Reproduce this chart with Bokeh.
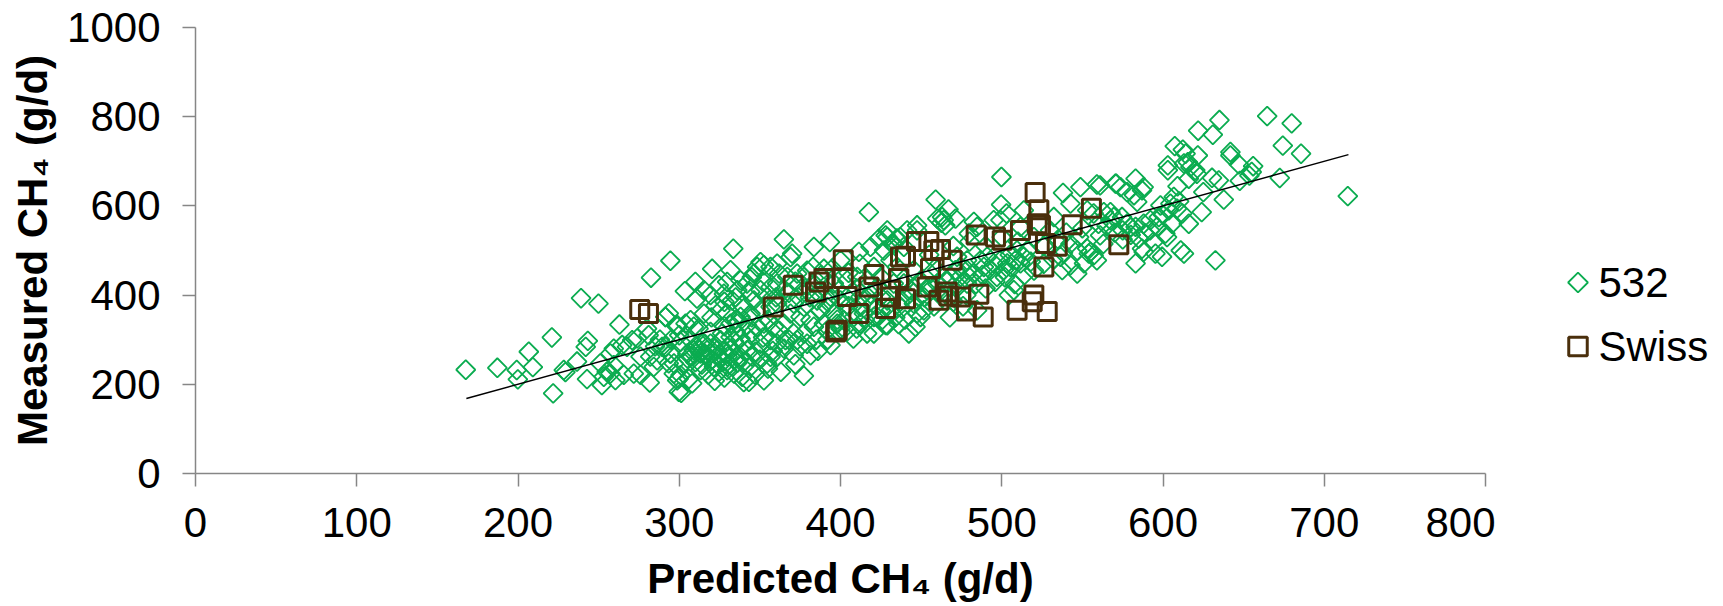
from bokeh.plotting import figure
from bokeh.layouts import row
from bokeh.models import FixedTicker, Range1d
from bokeh.core.properties import value
from bokeh.embed import file_html
from bokeh.resources import INLINE
import math

x_ticks = [0, 100, 200, 300, 400, 500, 600, 700, 800]
y_ticks = [0, 200, 400, 600, 800, 1000]
trend_x = [168, 715]
trend_y = [168, 715]
legend_labels = ["532", "Swiss"]

points_532 = [
(167.6,232.6),(187.2,237),(199.2,232),(199.9,211),(206.7,273),(209.2,238.6),(221,305),(221.8,179.6),(228.4,232),(229.4,227.4),
(236.6,251),(239.1,393),(249.9,381),(242,284),(243.3,297.5),(242.8,211.7),(252,198),(262.9,334),(282.5,439),(294.5,477),
(259.4,280),(257.3,269),(251,247),(257.3,224),(260.4,209.5),(265.6,221),(271.8,224),(276,221),(281.7,204),(264.6,288),
(267.6,284),(270.8,299),(273.9,303),(281,310),(276,262),(282,262),(286.3,254),(289.4,284),(294.5,269),(296.6,224),
(299.7,213),(299.7,183),(280,325),(291.4,351),(293.5,359),(298.7,333),(259.4,243),(255,228),(253.2,217),(284.2,239),(293.5,247),
(417.6,586),(364.9,525),(393.4,519),(383.5,508),(333.5,504),(370,493),(369,485),(320.4,459),(331.8,456),(350.4,474),
(352.5,467),(356.6,463),(360.7,470.6),(346.3,448),(348.3,463),(383,463),(389.7,459),(411.4,497),(400,478),(423.8,526.5),
(429,530),(433,515),(418.6,508),(420.7,463),(310,429.5),(303.5,409),(315.3,411),(324.6,422),(329.7,429.5),(338,433),
(342,426),(336,411),(344,407),(350.4,411),(356.6,418),(360.7,426),(311,392),(319.4,400),(327.7,403),(332.8,388),
(339,377),(346.3,388),(354.5,396),(360.7,381),(322.5,377),(315.3,358.6),(325.6,366),(329.7,358.6),(291.5,351),(298.7,329),
(303.9,336),(307,343.6),(309,329),(319.4,317.5),(326.6,314),(336,336),(342,332.5),(348.3,329),(352.5,336),(358.7,329),
(364.9,336),(369,358.6),(375.2,351),(381.4,343.6),(387.6,366),(391.7,373.5),(395.9,358.6),(371,381),(377.3,373.5),(385.5,388),
(393.8,396),(400,388),(406.2,403),(412.4,396),(418.6,403),(408,302.6),(393.8,287.7),(377.3,219),(352.5,209),(343.2,205.5),
(301.2,181),(308,202),(300.8,220.5),(298.7,209),(381.4,265),(371,265),(379.3,291),(365.9,299),(360.7,261.5),(354.5,246.6),
(356.6,261.5),(344.2,239),(339,217),(334,224),(329.7,231.7),(324.6,228),(321.5,239),(313.2,231.7),(313.2,269),(317.3,276.5),
(309,276.5),(305,269),(294.6,269),(291.5,284),(296.7,246.6),(323.5,276.5),(329.7,284),(333.9,269),(338,261.5),(342,276.5),
(347.3,273),(350.4,291),(356.6,299),(360.7,291),(344,299),(338,302.6),(331.8,306),(325.6,299),(319.4,291),(313.2,291),
(307,299),(300.8,295),(391.7,321),(371,314),(373.1,299),(377.3,314),(383.5,329),(389.7,336),(420.7,314),(416.5,314),
(429,332.5),(412.4,336),(420.7,351),(408.3,351),(402,343.6),(398,336),(414.5,358.6),(425,366),(412.4,373.5),(420.7,381),
(429,388),(422.8,418),(416.5,433),(410.4,440.7),(404.2,433),(395.9,426),(389.7,418),(383.5,426),(377.3,440.7),(373.1,448),
(379.3,455),(367,440.7),(365,411),(356.6,373.5),(350.4,366),(344.2,358.6),(338,351),(331.8,336),
(310,285),(312,280),(314,272),(316,268),(318,262),(320,270),(322,280),(324,265),(326,258),(328,272),(330,262),(332,278),
(316,290),(320,255),(323,248),(327,250),(331,245),(334,255),(336,248),(340,250),(308,262),(305,258),(303,248),(310,250),(314,244),
(499.8,664.8),(459,614),(499.6,603),(467,592),(463,575),(464,568),(462.6,562),(465,556.5),(460,571.5),(471.3,571.5),
(447.5,556.5),(428,534),(435,527),(447.5,545),(482.7,564),(484.7,553),(479.6,538),(538,629),(548.8,642),(559,648),
(570.5,650),(495,568),(503,583),(513.7,590),(499.2,568),(511.6,553),(532.3,575),(542.6,605),(553,590),(557,583),
(563.3,586),(567.4,568),(561,534),(553,504),(555,497),(557,489),(554,493),(546.8,448),(537.5,456),(542.6,467),
(551,471),(559,478),(536.4,486),(546.8,500),(542.6,515),(507.5,411),(504.4,400),(508.5,478),(511.6,471),(505.4,463),
(501.3,456),(497,441),(493,456),(488.9,463),(482.7,448),(478.5,456),(474.4,463),(468.2,441),(513.7,486),(509.5,500),
(515.8,500),(499.2,478),(503.4,471),(495,471),(486.8,478),(491,486),(478.5,478),(472.3,486),(464,441),(467.8,350),
(484.7,366),(442.4,314),(446.5,329),(449.6,351),(451.7,366),(445.5,381),(428,333),(455.8,448),(460,456),(449.6,433),
(453.7,411),(445.5,456),(435,463),(431,478),(427,500),(429,545),(432,515),(439.3,508),(441.3,545),(437,530),
(425,441),(433,426),(439.3,426),(443.4,411),(425,396),(447.5,359),(478.5,426),(474.4,441),(471.3,456),
(664.6,801.4),(679.8,785),(635,792.5),(621.8,768.6),(630.9,759.6),(674.3,735),(685.6,717),(607.3,734),(612.3,726),(614,717),
(621.6,713),(641.8,720.8),(641.8,713),(603,691),(603,680),(647,693),(655.9,689),(655,676),(653.6,668),(672.4,662.6),
(647.6,656),(634.6,657),(630.4,663),(620,680),(617,687),(621,672),(616,661),(609,644),(625,631),(637.7,614),
(583,661),(588,642),(587,635),(571,650),(573.6,642),(577.7,631),(582,624),(584,609),(561,646),(714.6,622),
(632.5,478),(624,586),(616,560),(612,583),(611,500),(613,493),(599.4,486),(595.3,493),(583,471),(587,504),
(588,497),(602.5,530),(601.5,538),(605.6,560),(596.3,553),(598.4,601),(604.6,605),(606.7,620),(608.7,594),(603.6,590),
(597.4,575),(592.2,568),(588,560),(583,553),(580,553),(577.7,560),(574.6,575),(567.4,586),(589,538),(585,527),
(594,519),(569.5,575),(563,515),(613,695),(615.4,698),
(381,395),(386,405),(392,385),(399,410),(405,375),(410,415),(416,390),(423,350),(431,365),(437,385),
(442,400),(449,395),(455,420),(461,405),(466,430),(472,415),(478,400),(484,425),(490,415),(496,430),
(502,440),(508,425),(514,445),(520,455),(526,470),(532,480),(538,495),(410,325),(404,318),(398,345),
(434,350),(440,345),(458,375),(463,395),(470,385),(476,375),(455,490),(470,510),(480,520),(490,510),
(500,530),(510,520),(520,530),(530,545),(540,540),(550,550),(560,560),(570,540),(575,525),(580,535),
(345,440),(352,430),(362,448),(372,430),(378,415),(388,445),(395,460),(405,450),(412,470),(360,395),
(368,405),(374,395),(335,395),(328,385),(320,350),(335,345),(345,350),(355,345),(362,320),(368,300),
(375,285),(385,300),(345,315),(352,305),(335,318),(328,330),(312,325),(300,310),(295,300),(288,300),
(285,285),(350,255),(358,275),(365,280),(372,245),(386,275),(392,300),(400,325),(340,290),(334,296),
(355,235),(363,228),(347,222),(328,215),(318,222),(306,212),(322,208),(340,205),(330,240),(345,262),
(415,345),(426,345),(436,335),(438,370),(452,395),(446,415),(460,425),(468,395),(480,440),(488,445),
(505,490),(518,475),(526,510),(535,525),(548,530),(565,555),(575,545),(592,545),(600,580),(610,610),
]

points_swiss = [
(275.5,367.7),(280.9,358.8),(358.3,373.5),(370.7,422),(384.5,407),(386.6,429.5),(389.7,437),(397,317.5),(398,321),(401.7,479.5),
(401.7,437),(404.2,397),(411.4,358.6),(417.6,418),(420.7,446),(427.9,370),(431,396),(431,411),(436,437),(436.2,437),
(437.2,485.5),(440.3,487),(440.3,392),(447.1,520),(453.7,418.4),(454.8,520),(455.8,459.5),(457.9,500.5),(461,388.5),(462,502),
(466.1,407),(467.2,398),(469.2,478),(474.4,396),(478.1,364.6),(484.1,535),(485.8,402),(488.5,351),(496.1,530.4),(500.3,523),
(509.5,366),(511.6,545),(518.9,385),(519.9,400),(520.7,630),(522,560),(523,591.6),(524,556.5),(526.1,463),(527.1,515.5),
(528.2,363),(534.4,509.5),(543.7,558),(555.6,595),(572.6,513),
]

x532 = [a for a, _ in points_532]
y532 = [b for _, b in points_532]
xswiss = [a for a, _ in points_swiss]
yswiss = [b for _, b in points_swiss]

GREEN = "#0BAC50"
BROWN = "#4A2F0C"
AXIS = "#868686"
FONT = "Liberation Sans"
W, H, LW = 1495, 606, 220
TOP, BOTTOM = 27, 473

p = figure(width=W, height=H, output_backend="svg", toolbar_location=None,
           x_range=Range1d(0, 800), y_range=Range1d(0, 1000),
           min_border_left=195, min_border_right=W - 1485, min_border_top=TOP, min_border_bottom=H - BOTTOM,
           outline_line_color=None, background_fill_color="white", border_fill_color="white")
p.grid.visible = False

for ax in (p.xaxis[0], p.yaxis[0]):
    ax.axis_line_color = AXIS
    ax.axis_line_width = 1.5
    ax.major_tick_line_color = AXIS
    ax.major_tick_line_width = 1.5
    ax.major_tick_out = 13
    ax.major_tick_in = 0
    ax.minor_tick_line_color = None
    ax.major_label_text_font = FONT
    ax.major_label_text_font_size = "42px"
    ax.major_label_text_color = "black"
    ax.axis_label_text_font = FONT
    ax.axis_label_text_font_style = "bold"
    ax.axis_label_text_font_size = "42px"
    ax.axis_label_text_color = "black"

p.xaxis[0].ticker = FixedTicker(ticks=x_ticks)
p.yaxis[0].ticker = FixedTicker(ticks=y_ticks)
p.xaxis[0].major_label_standoff = 21
p.yaxis[0].major_label_standoff = 22
p.xaxis[0].axis_label = "Predicted CH\u2084 (g/d)"
p.yaxis[0].axis_label = "Measured CH\u2084 (g/d)"
p.xaxis[0].axis_label_standoff = 15
p.yaxis[0].axis_label_standoff = 8

p.scatter(x532, y532, marker="square", angle=math.pi / 4, size=13.5,
          fill_color=None, line_color=GREEN, line_width=1.8)
p.scatter(xswiss, yswiss, marker="square", size=18,
          fill_color=None, line_color=BROWN, line_width=3)
p.line(trend_x, trend_y, line_color="black", line_width=1.5)

# legend drawn in its own panel, whose coordinates are page pixels
q = figure(width=LW, height=H, output_backend="svg", toolbar_location=None,
           x_range=Range1d(W, W + LW), y_range=Range1d(BOTTOM, TOP),
           min_border_left=0, min_border_right=0, min_border_top=TOP, min_border_bottom=H - BOTTOM,
           outline_line_color=None, x_axis_type=None, y_axis_type=None,
           background_fill_color="white", border_fill_color="white")
q.grid.visible = False
q.scatter([1577.5], [282], marker="square", angle=math.pi / 4, size=14,
          fill_color=None, line_color=GREEN, line_width=1.8)
q.scatter([1577.5], [346], marker="square", size=18.5,
          fill_color=None, line_color=BROWN, line_width=3)
q.text([1598, 1598], [282, 346], text=legend_labels, text_font=value(FONT), text_font_size="42px",
       text_color="black", text_align="left", text_baseline="middle")

layout = row(p, q, spacing=0)
open("out.html", "w").write(file_html(layout, INLINE))
